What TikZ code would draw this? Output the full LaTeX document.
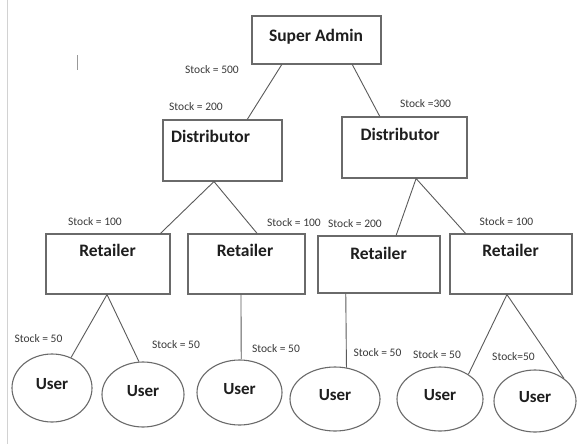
\documentclass[tikz,border=0pt]{standalone}
\usepackage{fontspec}
\setmainfont{Carlito}
\usetikzlibrary{calc,shapes.geometric}
\definecolor{edgegray}{HTML}{5A5A5A}
\definecolor{boxgray}{HTML}{6A6A6A}
\definecolor{inkdark}{HTML}{1E1E1E}
\definecolor{labelgray}{HTML}{3A3A3A}
\tikzset{
  roledbox/.style={draw=boxgray, line width=1.1pt, rectangle, inner sep=0pt},
  boxtext/.style={inkdark, font=\bfseries\fontsize{17.5}{20}\selectfont, anchor=base, inner sep=0pt},
  userbubble/.style={draw=boxgray, line width=1.1pt, ellipse, inner sep=0pt, text=inkdark,
    font=\bfseries\fontsize{17}{20}\selectfont, text depth=8pt},
  stocklbl/.style={labelgray, font=\fontsize{11.5}{13}\selectfont, inner sep=0pt},
  link/.style={draw=edgegray, line width=0.9pt},
}
\begin{document}
\begin{tikzpicture}[x=1pt,y=-1pt]
\useasboundingbox (0,0) rectangle (577,444);
\fill[white] (0,0) rectangle (577,444);
% page edge and text cursor
\draw[gray!35, line width=0.8pt] (7,0) -- (7,444);
\draw[gray!80, line width=1pt] (77,55) -- (77,70);

% boxes
\node[roledbox, minimum width=129pt, minimum height=48pt] (sa) at (316.5,40) {};
\node[roledbox, minimum width=119pt, minimum height=61pt] (d1) at (222.5,150.5) {};
\node[roledbox, minimum width=125pt, minimum height=61pt] (d2) at (404.5,147.5) {};
\node[roledbox, minimum width=124pt, minimum height=60pt] (r1) at (108,264) {};
\node[roledbox, minimum width=117pt, minimum height=60pt] (r2) at (246.5,264) {};
\node[roledbox, minimum width=122pt, minimum height=57pt] (r3) at (379,264.5) {};
\node[roledbox, minimum width=122pt, minimum height=60pt] (r4) at (511,264) {};

% box titles
\node[boxtext] (sat) at (316,41.5) {Super Admin};
\node[boxtext] (d1t) at (210.5,142.5) {Distributor};
\node[boxtext] (d2t) at (400,140.5) {Distributor};
\node[boxtext] (r1t) at (107.5,256.5) {Retailer};
\node[boxtext] (r2t) at (245,256.5) {Retailer};
\node[boxtext] (r3t) at (378.5,259.5) {Retailer};
\node[boxtext] (r4t) at (510.5,256.5) {Retailer};

% users
\node[userbubble, minimum width=80pt, minimum height=68pt] (u1) at (52,388) {User};
\node[userbubble, minimum width=82pt, minimum height=65pt] (u2) at (143,394.5) {User};
\node[userbubble, minimum width=85pt, minimum height=65pt] (u3) at (239.5,392.5) {User};
\node[userbubble, minimum width=90pt, minimum height=64pt] (u4) at (335,399) {User};
\node[userbubble, minimum width=86pt, minimum height=64pt] (u5) at (440,399) {User};
\node[userbubble, minimum width=82pt, minimum height=62pt] (u6) at (535,401) {User};

% stock labels
\node[stocklbl] (s500) at (212,70) {Stock = 500};
\node[stocklbl] (s200a) at (196,107) {Stock = 200};
\node[stocklbl] (s300) at (425.5,104) {Stock =300};
\node[stocklbl] (s100a) at (95,222) {Stock = 100};
\node[stocklbl] (s100b) at (294,223) {Stock = 100};
\node[stocklbl] (s200b) at (355,224) {Stock = 200};
\node[stocklbl] (s100c) at (506.5,222) {Stock = 100};
\node[stocklbl] (s50a) at (38.5,339) {Stock = 50};
\node[stocklbl] (s50b) at (176,345) {Stock = 50};
\node[stocklbl] (s50c) at (276,349) {Stock = 50};
\node[stocklbl] (s50d) at (377.5,353) {Stock = 50};
\node[stocklbl] (s50e) at (437,355) {Stock = 50};
\node[stocklbl] (s50f) at (513.5,357) {Stock=50};

% connectors
\draw[link] ($(sa.south west)!0.233!(sa.south east)$) -- ($(d1.north west)!0.706!(d1.north east)$);
\draw[link] ($(sa.south west)!0.775!(sa.south east)$) -- ($(d2.north west)!0.304!(d2.north east)$);
\draw[link] ($(r1.north west)!0.919!(r1.north east)$) -- ($(d1.south west)!0.429!(d1.south east)$)
  -- ($(r2.north west)!0.590!(r2.north east)$);
\draw[link] ($(r3.north west)!0.639!(r3.north east)$) -- ($(d2.south west)!0.592!(d2.south east)$)
  -- ($(r4.north west)!0.131!(r4.north east)$);
\draw[link] (u1.58) -- ($(r1.south west)!0.492!(r1.south east)$) -- (u2.97);
\draw[link] ($(r2.south west)!0.453!(r2.south east)$) -- (u3.87);
\draw[link] ($(r3.south west)!0.230!(r3.south east)$) -- (u4.70);
\draw[link] (u5.41) -- ($(r4.south west)!0.467!(r4.south east)$) -- (u6.38);
\end{tikzpicture}
\end{document}
